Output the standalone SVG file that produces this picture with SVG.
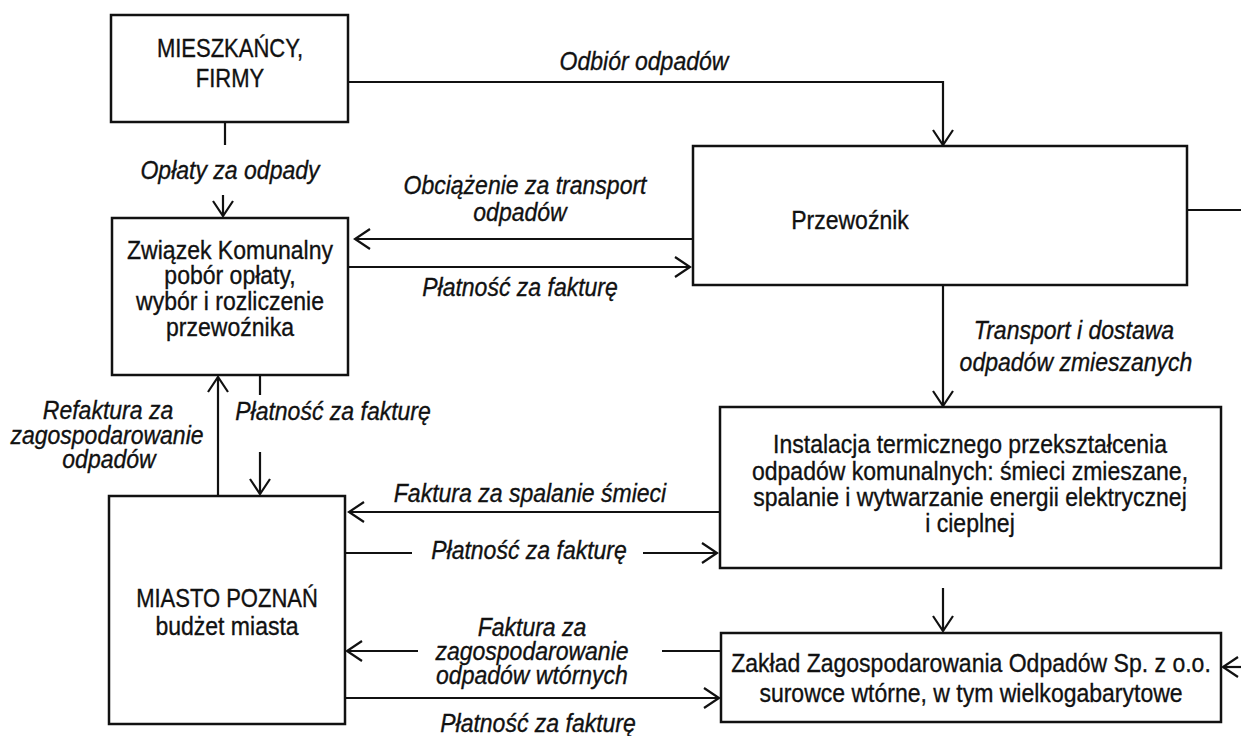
<svg xmlns="http://www.w3.org/2000/svg" width="1241" height="736" viewBox="0 0 1241 736">
<style>
.box{fill:#fff;stroke:#111;stroke-width:2.5}
.t{font-family:"Liberation Sans",Arial,sans-serif;font-size:26px;fill:#111;stroke:#111;stroke-width:0.35;text-anchor:middle}
.caps{font-size:25px}
.lab{font-family:"Liberation Sans",Arial,sans-serif;font-size:26px;font-style:italic;fill:#111;stroke:#111;stroke-width:0.35;text-anchor:middle}
.c{fill:none;stroke:#111;stroke-width:2.2}
</style>
<defs>
<marker id="arr" markerUnits="userSpaceOnUse" markerWidth="20" markerHeight="24" viewBox="-17 -12 20 24" refX="0" refY="0" orient="auto">
<path d="M-15,-10 L0,0 L-15,10" fill="none" stroke="#111" stroke-width="2.2"/>
</marker>
</defs>
<rect width="1241" height="736" fill="#fff"/>
<g id="connectors">
<path class="c" d="M348,82 H943 V145" marker-end="url(#arr)"/>
<path class="c" d="M225,122 V145"/>
<path class="c" d="M223,195 V216" marker-end="url(#arr)"/>
<path class="c" d="M693,239 H355" marker-end="url(#arr)"/>
<path class="c" d="M348,267 H690" marker-end="url(#arr)"/>
<path class="c" d="M1187,210 H1241"/>
<path class="c" d="M943,285 V406" marker-end="url(#arr)"/>
<path class="c" d="M218,496 V377" marker-end="url(#arr)"/>
<path class="c" d="M260,375 V395"/>
<path class="c" d="M260,452 V494" marker-end="url(#arr)"/>
<path class="c" d="M720,512 H349" marker-end="url(#arr)"/>
<path class="c" d="M346,553 H412"/>
<path class="c" d="M643,553 H717" marker-end="url(#arr)"/>
<path class="c" d="M943,588 V631" marker-end="url(#arr)"/>
<path class="c" d="M721,651 H662"/>
<path class="c" d="M418,651 H347" marker-end="url(#arr)"/>
<path class="c" d="M345,698 H719" marker-end="url(#arr)"/>
<path class="c" d="M1241,667 H1223" marker-end="url(#arr)"/>
</g>
<g id="labels">
<text class="lab" transform="matrix(0.885 0 0 1 644 70)">Odbiór odpadów</text>
<text class="lab" transform="matrix(0.885 0 0 1 230 179)">Opłaty za odpady</text>
<text class="lab" transform="matrix(0.885 0 0 1 525 194)">Obciążenie za transport</text>
<text class="lab" transform="matrix(0.885 0 0 1 520 221)">odpadów</text>
<text class="lab" transform="matrix(0.885 0 0 1 520 296)">Płatność za fakturę</text>
<text class="lab" transform="matrix(0.885 0 0 1 1074 339)">Transport i dostawa</text>
<text class="lab" transform="matrix(0.885 0 0 1 1076 371)">odpadów zmieszanych</text>
<text class="lab" transform="matrix(0.885 0 0 1 108 419)">Refaktura za</text>
<text class="lab" transform="matrix(0.885 0 0 1 107 444)">zagospodarowanie</text>
<text class="lab" transform="matrix(0.885 0 0 1 109 468)">odpadów</text>
<text class="lab" transform="matrix(0.885 0 0 1 333 420)">Płatność za fakturę</text>
<text class="lab" transform="matrix(0.885 0 0 1 530 502)">Faktura za spalanie śmieci</text>
<text class="lab" transform="matrix(0.885 0 0 1 529 559)">Płatność za fakturę</text>
<text class="lab" transform="matrix(0.885 0 0 1 532 636)">Faktura za</text>
<text class="lab" transform="matrix(0.885 0 0 1 532 660)">zagospodarowanie</text>
<text class="lab" transform="matrix(0.885 0 0 1 532 684)">odpadów wtórnych</text>
<text class="lab" transform="matrix(0.885 0 0 1 538 732)">Płatność za fakturę</text>
</g>
<g id="mieszkancy">
<rect class="box" x="111" y="15" width="237" height="107"/>
<text class="t caps" transform="matrix(0.88 0 0 1 230 57)">MIESZKAŃCY,</text>
<text class="t caps" transform="matrix(0.88 0 0 1 230 87)">FIRMY</text>
</g>
<g id="zwiazek">
<rect class="box" x="112" y="218" width="236" height="157"/>
<text class="t" transform="matrix(0.885 0 0 1 230 259)">Związek Komunalny</text>
<text class="t" transform="matrix(0.885 0 0 1 230 284)">pobór opłaty,</text>
<text class="t" transform="matrix(0.885 0 0 1 230 310)">wybór i rozliczenie</text>
<text class="t" transform="matrix(0.885 0 0 1 230 336)">przewoźnika</text>
</g>
<g id="przewoznik">
<rect class="box" x="693" y="146" width="494" height="139"/>
<text class="t" transform="matrix(0.885 0 0 1 850 229)">Przewoźnik</text>
</g>
<g id="instalacja">
<rect class="box" x="720" y="407" width="501" height="161"/>
<text class="t" transform="matrix(0.885 0 0 1 970 453)">Instalacja termicznego przekształcenia</text>
<text class="t" transform="matrix(0.885 0 0 1 970 480)">odpadów komunalnych: śmieci zmieszane,</text>
<text class="t" transform="matrix(0.885 0 0 1 970 506)">spalanie i wytwarzanie energii elektrycznej</text>
<text class="t" transform="matrix(0.885 0 0 1 970 532)">i cieplnej</text>
</g>
<g id="miasto">
<rect class="box" x="109" y="496" width="236" height="228"/>
<text class="t caps" transform="matrix(0.88 0 0 1 227 607)">MIASTO POZNAŃ</text>
<text class="t" transform="matrix(0.885 0 0 1 227 635)">budżet miasta</text>
</g>
<g id="zaklad">
<rect class="box" x="721" y="633" width="500" height="89"/>
<text class="t" transform="matrix(0.885 0 0 1 971 672)">Zakład Zagospodarowania Odpadów Sp. z o.o.</text>
<text class="t" transform="matrix(0.885 0 0 1 971 702)">surowce wtórne, w tym wielkogabarytowe</text>
</g>
</svg>
